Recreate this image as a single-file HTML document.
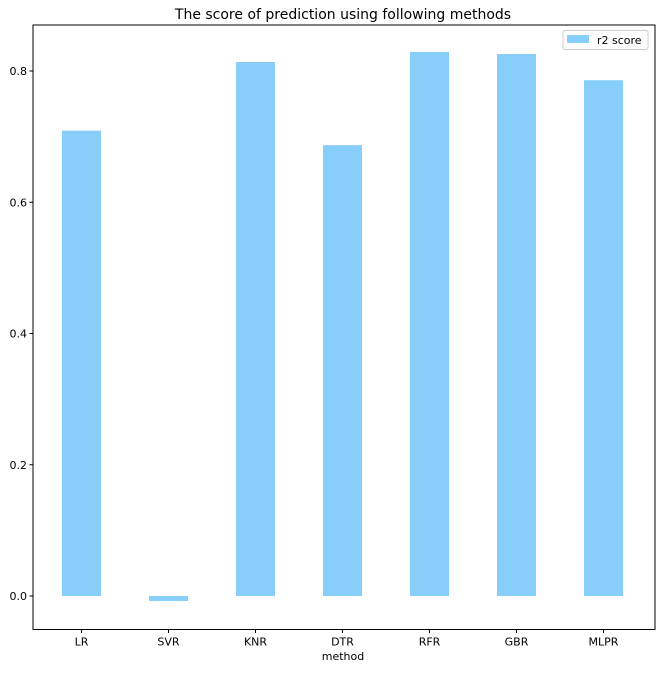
<!DOCTYPE html>
<html><head><meta charset="utf-8"><style>
body{margin:0;background:#fff;}
svg text{font-family:"DejaVu Sans","Liberation Sans",sans-serif;fill:#000;}
</style></head><body>
<svg id="chart" width="664" height="669" xmlns="http://www.w3.org/2000/svg">
<text x="343" y="19" font-size="14" text-anchor="middle">The score of prediction using following methods</text>
<g id="bars"></g>
<g id="axes"></g>
<g>
<rect x="563" y="30.5" width="85" height="19" rx="2" fill="#fff" stroke="#ccc"/>
<rect x="567" y="35" width="22" height="8" fill="#87cefa"/>
<text x="597" y="44" font-size="11">r2 score</text>
</g>
<text x="343" y="660" font-size="11" text-anchor="middle">method</text>
</svg>
<script>
const categories=["LR","SVR","KNR","DTR","RFR","GBR","MLPR"];
const values=[0.709,-0.0076,0.8137,0.687,0.829,0.826,0.786];
const yTicks=[0.0,0.2,0.4,0.6,0.8];
const NS="http://www.w3.org/2000/svg";
const L=33,R=655,T=25,B=629.5;
function y(v){return 596-v*656.25;}
function x(i){return 81.5+87*i;}
const bw=39;
const bars=document.getElementById('bars'),axes=document.getElementById('axes');
function mk(tag,attrs,parent){const e=document.createElementNS(NS,tag);for(const k in attrs)e.setAttribute(k,attrs[k]);parent.appendChild(e);return e;}
values.forEach((v,i)=>{
 const r=mk('rect',{x:x(i)-bw/2,y:Math.min(y(v),y(0)),width:bw,height:Math.abs(y(v)-y(0)),fill:'#87cefa'},bars);
 
 
});
const frame=mk('rect',{x:L,y:T,width:R-L,height:B-T,fill:'none',stroke:'#000','stroke-width':1},axes);


yTicks.forEach(t=>{
 const tk=mk('line',{x1:L-3.5,x2:L,y1:y(t),y2:y(t),stroke:'#000'},axes);
 
 
 const tx=mk('text',{x:L-6,y:y(t)+4,'font-size':11,'text-anchor':'end'},axes);
 tx.textContent=t.toFixed(1);
 
 
});
categories.forEach((c,i)=>{
 const tk=mk('line',{x1:x(i),x2:x(i),y1:B,y2:B+3.5,stroke:'#000'},axes);
 
 
 const tx=mk('text',{x:x(i),y:B+16,'font-size':11,'text-anchor':'middle'},axes);
 tx.textContent=c;
 
 
});
</script>
</body></html>
